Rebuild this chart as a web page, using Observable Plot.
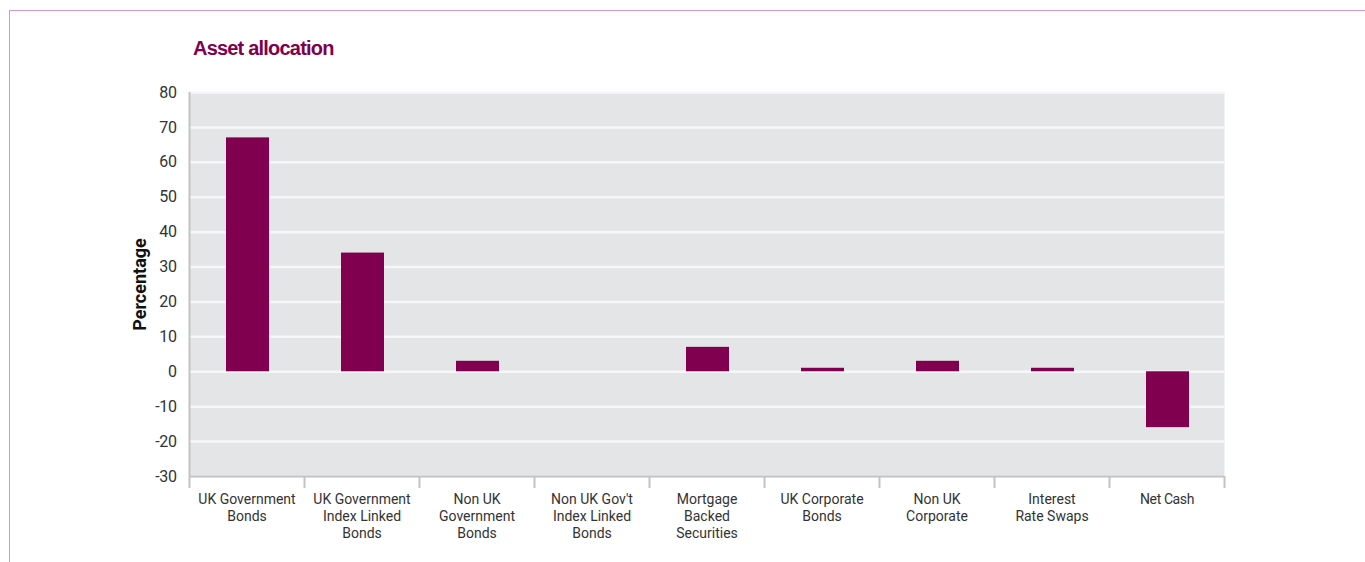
<!DOCTYPE html>
<html>
<head>
<meta charset="utf-8">
<script src="https://cdn.jsdelivr.net/npm/d3@7"></script>
<script src="https://cdn.jsdelivr.net/npm/@observablehq/plot@0.6"></script>
<style>
  html, body { margin: 0; padding: 0; background: #fff; }
  body { width: 1365px; height: 562px; position: relative; overflow: hidden;
         font-family: Roboto, "Liberation Sans", sans-serif; }
  #frame { position: absolute; left: 9px; top: 10px; width: 1400px; height: 600px;
           border-top: 1.5px solid #d89bbb; border-left: 1.5px solid #d89bbb; }
  #title { position: absolute; left: 193px; top: 37px; margin: 0; font-size: 20px; line-height: 22px;
           font-weight: bold; color: #80004f; letter-spacing: -0.8px;
           font-family: "Liberation Sans", Roboto, sans-serif; }
  #chart { position: absolute; left: 0; top: 70px; }
  #chart svg text { letter-spacing: -0.4px; }
</style>
</head>
<body>
<div id="frame"></div>
<h2 id="title">Asset allocation</h2>
<div id="chart"></div>
<script>
const categories = [
  "UK Government\nBonds",
  "UK Government\nIndex Linked\nBonds",
  "Non UK\nGovernment\nBonds",
  "Non UK Gov't\nIndex Linked\nBonds",
  "Mortgage\nBacked\nSecurities",
  "UK Corporate\nBonds",
  "Non UK\nCorporate",
  "Interest\nRate Swaps",
  "Net Cash"
];
const values = [67, 34, 3, 0, 7, 1, 3, 1, -16];
const yTicks = [80, 70, 60, 50, 40, 30, 20, 10, 0, -10, -20, -30];

const data = categories.map((c, i) => ({i, cat: c, value: values[i]}));
const boundaries = d3.range(categories.length + 1);
const centers = categories.map((c, i) => i + 0.5);

const font = 'Roboto, "Liberation Sans", sans-serif';

const chart = Plot.plot({
  width: 1365,
  height: 492,
  marginLeft: 189,
  marginRight: 141,
  marginTop: 22,
  marginBottom: 86,
  style: { fontFamily: font, fontSize: "16px", color: "#333", background: "transparent" },
  x: { type: "linear", domain: [0, categories.length], axis: null },
  y: { domain: [-30, 80], axis: null },
  marks: [
    Plot.frame({ fill: "#e4e5e7", stroke: null }),
    Plot.gridY(yTicks, { stroke: "#f7f7f9", strokeOpacity: 1, strokeWidth: 2.5 }),
    Plot.rectY(data, {
      x1: "i", x2: d => d.i + 1, y1: 0, y2: "value",
      insetLeft: 37, insetRight: 35, fill: "#80004f"
    }),
    Plot.ruleX([0], { stroke: "#c3c3c3", strokeWidth: 2 }),
    Plot.ruleY([-30], { stroke: "#c3c3c3", strokeWidth: 2 }),
    Plot.axisX(boundaries, {
      anchor: "bottom", tickSize: 12, tickFormat: () => "", stroke: "#c3c3c3", strokeWidth: 2, label: null
    }),
    Plot.axisX(centers, {
      anchor: "bottom", tickSize: 0, tickPadding: 16, lineHeight: 1.2,
      tickFormat: d => categories[Math.floor(d)], fontSize: 14, fill: "#333", label: null
    }),
    Plot.axisY(yTicks, {
      anchor: "left", tickSize: 0, tickPadding: 13, fontSize: 16, fill: "#333",
      tickFormat: d => String(d),
      label: "Percentage", labelAnchor: "center", labelArrow: "none", labelOffset: 56
    })
  ]
});
document.getElementById("chart").appendChild(chart);
// style the y-axis label to be bold
chart.querySelectorAll("text").forEach(t => {
  if (t.textContent === "Percentage") {
    t.style.fontWeight = "bold"; t.style.fontSize = "18px"; t.style.fill = "#111"; t.style.letterSpacing = "0px";
  }
});
chart.querySelectorAll("tspan").forEach(t => { t.style.letterSpacing = "0px"; });
</script>
</body>
</html>
